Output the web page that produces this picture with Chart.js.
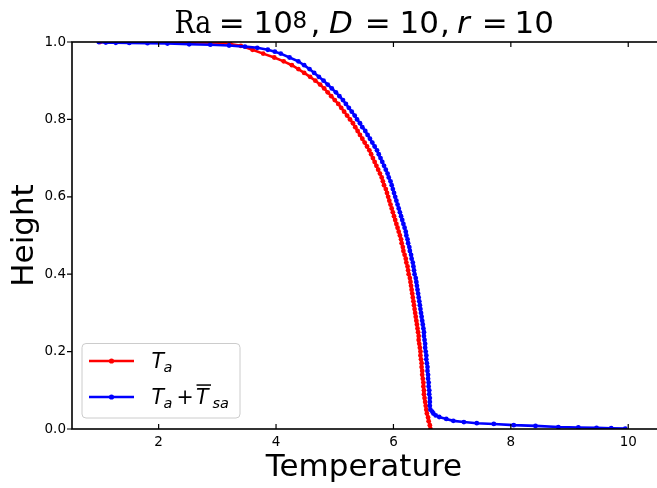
<!DOCTYPE html>
<html>
<head>
<meta charset="utf-8">
<script src="https://cdn.jsdelivr.net/npm/chart.js@4/dist/chart.umd.min.js"></script>
<style>
html, body { margin: 0; padding: 0; background: #fff; overflow: hidden; }
#wrap { width: 657px; height: 488px; overflow: hidden; }
</style>
</head>
<body>
<div id="wrap"><canvas id="myChart" width="662" height="488"></canvas></div>
<script>
// T_a profile (height -> temperature)
var redHeight = [1.000, 0.999, 0.998, 0.995, 0.990,
    0.98, 0.97, 0.96, 0.95, 0.94, 0.93, 0.92, 0.91, 0.90, 0.89, 0.88, 0.87, 0.86, 0.85, 0.84, 0.83, 0.82, 0.81,
    0.80, 0.79, 0.78, 0.77, 0.76, 0.75, 0.74, 0.73, 0.72, 0.71, 0.70, 0.69, 0.68, 0.67, 0.66, 0.65, 0.64, 0.63,
    0.62, 0.61, 0.60, 0.59, 0.58, 0.57, 0.56, 0.55, 0.54, 0.53, 0.52, 0.51, 0.50, 0.49, 0.48, 0.47, 0.46, 0.45,
    0.44, 0.43, 0.42, 0.41, 0.40, 0.39, 0.38, 0.37, 0.36, 0.35, 0.34, 0.33, 0.32, 0.31, 0.30, 0.29, 0.28, 0.27,
    0.26, 0.25, 0.24, 0.23, 0.22, 0.21, 0.20, 0.19, 0.18, 0.17, 0.16, 0.15, 0.14, 0.13, 0.12, 0.11, 0.10, 0.09,
    0.08, 0.07, 0.06, 0.05, 0.04, 0.03, 0.02, 0.01, 0.00];
var redTemp = [1.00, 2.60, 3.08, 3.22, 3.40,
    3.60, 3.78, 3.97, 4.13, 4.27, 4.38, 4.48, 4.58, 4.67, 4.75, 4.82, 4.88, 4.94, 5.00, 5.06, 5.11, 5.16, 5.21,
    5.26, 5.31, 5.35, 5.39, 5.43, 5.47, 5.51, 5.55, 5.59, 5.62, 5.65, 5.68, 5.71, 5.74, 5.77, 5.80, 5.82, 5.84,
    5.87, 5.89, 5.91, 5.93, 5.95, 5.97, 5.99, 6.01, 6.03, 6.05, 6.07, 6.09, 6.11, 6.13, 6.14, 6.16, 6.17, 6.19,
    6.21, 6.22, 6.24, 6.25, 6.26, 6.28, 6.29, 6.30, 6.31, 6.32, 6.33, 6.34, 6.35, 6.36, 6.37, 6.38, 6.39, 6.40,
    6.41, 6.42, 6.43, 6.43, 6.44, 6.45, 6.46, 6.46, 6.47, 6.48, 6.48, 6.49, 6.49, 6.50, 6.51, 6.51, 6.52, 6.52,
    6.53, 6.54, 6.55, 6.56, 6.57, 6.59, 6.60, 6.62, 6.63];

// T_a + mean T_sa profile
var blueHeight = [1.000, 0.9985, 0.998, 0.9975, 0.997, 0.996, 0.994, 0.993, 0.991, 0.988, 0.985, 0.980, 0.975,
    0.97, 0.96, 0.95, 0.94, 0.93, 0.92, 0.91, 0.90, 0.89, 0.88, 0.87, 0.86, 0.85, 0.84, 0.83, 0.82, 0.81,
    0.80, 0.79, 0.78, 0.77, 0.76, 0.75, 0.74, 0.73, 0.72, 0.71, 0.70, 0.69, 0.68, 0.67, 0.66, 0.65, 0.64, 0.63,
    0.62, 0.61, 0.60, 0.59, 0.58, 0.57, 0.56, 0.55, 0.54, 0.53, 0.52, 0.51, 0.50, 0.49, 0.48, 0.47, 0.46, 0.45,
    0.44, 0.43, 0.42, 0.41, 0.40, 0.39, 0.38, 0.37, 0.36, 0.35, 0.34, 0.33, 0.32, 0.31, 0.30, 0.29, 0.28, 0.27,
    0.26, 0.25, 0.24, 0.23, 0.22, 0.21, 0.20, 0.19, 0.18, 0.17, 0.16, 0.15, 0.14, 0.13, 0.12, 0.11, 0.10, 0.09,
    0.08, 0.07, 0.06, 0.05, 0.045, 0.040, 0.035, 0.031, 0.026, 0.021, 0.018, 0.015, 0.013, 0.010, 0.008,
    0.005, 0.004, 0.003, 0.002, 0.001];
var blueTemp = [0.98, 1.10, 1.27, 1.50, 1.81, 2.15, 2.52, 2.88, 3.20, 3.47, 3.68, 3.86, 3.98,
    4.08, 4.23, 4.38, 4.48, 4.57, 4.65, 4.73, 4.81, 4.88, 4.95, 5.02, 5.08, 5.14, 5.19, 5.24, 5.29, 5.34,
    5.38, 5.43, 5.47, 5.52, 5.56, 5.60, 5.64, 5.68, 5.72, 5.75, 5.78, 5.81, 5.84, 5.87, 5.90, 5.92, 5.95, 5.97,
    5.99, 6.01, 6.03, 6.05, 6.07, 6.09, 6.11, 6.13, 6.15, 6.17, 6.19, 6.21, 6.22, 6.24, 6.25, 6.27, 6.28, 6.30,
    6.31, 6.33, 6.34, 6.35, 6.36, 6.38, 6.39, 6.40, 6.41, 6.42, 6.43, 6.44, 6.45, 6.46, 6.47, 6.48, 6.49, 6.50,
    6.51, 6.52, 6.52, 6.53, 6.54, 6.54, 6.55, 6.56, 6.56, 6.57, 6.58, 6.58, 6.59, 6.59, 6.60, 6.60, 6.61, 6.61,
    6.62, 6.62, 6.62, 6.63, 6.66, 6.68, 6.72, 6.78, 6.90, 7.02, 7.20, 7.42, 7.71, 8.05, 8.42,
    8.81, 9.15, 9.46, 9.71, 9.95];

var xTicks = [2, 4, 6, 8, 10];
var yTicks = [0, 0.2, 0.4, 0.6, 0.8, 1.0];

function pts(xs, ys) {
    var out = [];
    for (let i = 0; i < xs.length; i++) out.push({ x: xs[i], y: ys[i] });
    return out;
}

function txt(ctx, text, font, x, base) {
    ctx.font = font;
    ctx.fillText(text, x, base);
}

var SANS = '"DejaVu Sans"';

var decor = {
    id: 'decor',
    afterDraw(chart) {
        var ctx = chart.ctx, a = chart.chartArea;
        var xs = chart.scales.x, ys = chart.scales.y;
        ctx.save();

        // frame + ticks
        ctx.strokeStyle = '#000';
        ctx.lineWidth = 1.6;
        ctx.strokeRect(a.left, a.top, a.right - a.left, a.bottom - a.top);
        ctx.lineWidth = 1.2;
        ctx.beginPath();
        xTicks.forEach(v => {
            let p = xs.getPixelForValue(v);
            ctx.moveTo(p, a.bottom); ctx.lineTo(p, a.bottom - 5);
            ctx.moveTo(p, a.top); ctx.lineTo(p, a.top + 5);
        });
        yTicks.forEach(v => {
            let p = ys.getPixelForValue(v);
            ctx.moveTo(a.left, p); ctx.lineTo(a.left - 5, p);
        });
        ctx.stroke();

        ctx.fillStyle = '#000';
        ctx.textAlign = 'left';
        ctx.textBaseline = 'alphabetic';

        // title: Ra = 10^8, D = 10, r = 10
        var tb = 33.3;
        var big = '31px ' + SANS, it = 'italic 31px ' + SANS;
        ctx.font = '31px "DejaVu Serif"';
        var sx = 37 / ctx.measureText('Ra').width;
        ctx.save();
        ctx.translate(174.4, tb);
        ctx.scale(sx, 1);
        ctx.fillText('Ra', 0, 0);
        ctx.restore();
        txt(ctx, '=', big, 218.7, tb);
        txt(ctx, '10', big, 253.6, tb);
        txt(ctx, '8', '23px ' + SANS, 292.5, 28.3);
        txt(ctx, ',', big, 310.5, tb);
        txt(ctx, 'D', it, 329, tb);
        txt(ctx, '=', big, 364.7, tb);
        txt(ctx, '10', big, 399.6, tb);
        txt(ctx, ',', big, 440, tb);
        txt(ctx, 'r', it, 457, tb);
        txt(ctx, '=', big, 481.7, tb);
        txt(ctx, '10', big, 514.6, tb);

        // axis labels
        ctx.textAlign = 'center';
        ctx.font = big;
        ctx.fillText('Temperature', (a.left + 656) / 2, 476);
        ctx.save();
        ctx.translate(33, (a.top + a.bottom) / 2);
        ctx.rotate(-Math.PI / 2);
        ctx.fillText('Height', 0, 0);
        ctx.restore();
        ctx.textAlign = 'left';

        // legend
        ctx.beginPath();
        ctx.roundRect(82, 343.5, 158, 74.5, 4);
        ctx.fillStyle = 'rgba(255,255,255,0.8)';
        ctx.fill();
        ctx.strokeStyle = '#cccccc';
        ctx.lineWidth = 1;
        ctx.stroke();

        var rows = [{ c: '#ff0000', y: 361 }, { c: '#0000ff', y: 397 }];
        rows.forEach(r => {
            ctx.strokeStyle = r.c;
            ctx.lineWidth = 2.6;
            ctx.beginPath();
            ctx.moveTo(89, r.y); ctx.lineTo(134, r.y);
            ctx.stroke();
            ctx.fillStyle = r.c;
            ctx.beginPath();
            ctx.arc(111.5, r.y, 2.6, 0, Math.PI * 2);
            ctx.fill();
        });

        ctx.fillStyle = '#000';
        var lt = 'italic 20.5px ' + SANS, ls = 'italic 14.5px ' + SANS;
        txt(ctx, 'T', lt, 151.5, 368.3);
        txt(ctx, 'a', ls, 163.4, 371.5);

        txt(ctx, 'T', lt, 151.5, 404.3);
        txt(ctx, 'a', ls, 163.4, 407.5);
        txt(ctx, '+', '20.5px ' + SANS, 176.5, 404.3);
        txt(ctx, 'T', lt, 196, 404.3);
        ctx.fillRect(196.5, 384.3, 14.5, 1.5);
        txt(ctx, 'sa', ls, 212.5, 407.5);

        ctx.restore();
    }
};

var ctx = document.getElementById('myChart');
new Chart(ctx, {
    type: 'scatter',
    data: {
        datasets: [{
            label: 'T_a',
            data: pts(redTemp, redHeight),
            showLine: true,
            borderColor: '#ff0000',
            backgroundColor: '#ff0000',
            borderWidth: 2.6,
            pointRadius: 2.4,
            pointBorderWidth: 0,
            clip: 0,
            order: 2
        }, {
            label: 'T_a + T_sa',
            data: pts(blueTemp, blueHeight),
            showLine: true,
            borderColor: '#0000ff',
            backgroundColor: '#0000ff',
            borderWidth: 2.6,
            pointRadius: 2.4,
            pointBorderWidth: 0,
            clip: 0,
            order: 1
        }]
    },
    options: {
        responsive: false,
        devicePixelRatio: 1,
        animation: false,
        events: [],
        layout: { padding: { top: 42, left: 0, right: 3, bottom: 0 } },
        plugins: {
            legend: { display: false },
            title: { display: false },
            tooltip: { enabled: false }
        },
        scales: {
            x: {
                type: 'linear',
                min: 0.524,
                max: 10.507,
                afterBuildTicks: s => { s.ticks = xTicks.map(v => ({ value: v })); },
                afterFit: s => { s.height = 59; },
                grid: { display: false, drawTicks: false },
                border: { display: false },
                ticks: {
                    color: '#000',
                    padding: 5,
                    maxRotation: 0,
                    font: { family: 'DejaVu Sans', size: 13.5 },
                    callback: v => String(v)
                }
            },
            y: {
                type: 'linear',
                min: 0,
                max: 1,
                afterBuildTicks: s => { s.ticks = yTicks.map(v => ({ value: v })); },
                afterFit: s => { s.width = 72; },
                grid: { display: false, drawTicks: false },
                border: { display: false },
                ticks: {
                    color: '#000',
                    padding: 6,
                    font: { family: 'DejaVu Sans', size: 13.5 },
                    callback: v => v.toFixed(1)
                }
            }
        }
    },
    plugins: [decor]
});
</script>
</body>
</html>
